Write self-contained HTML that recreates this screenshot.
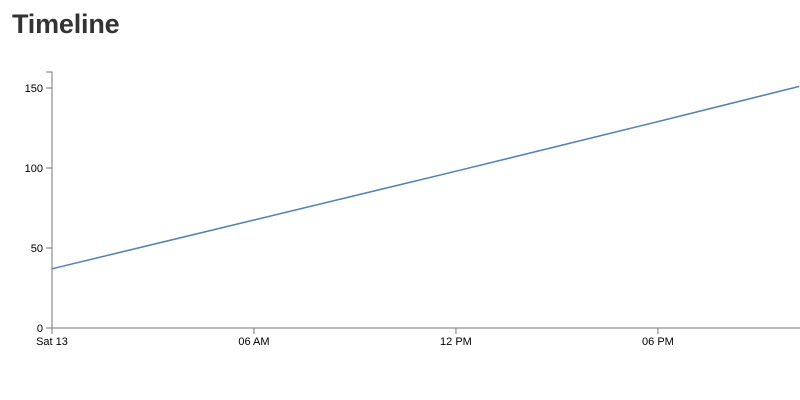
<!DOCTYPE html>
<html><head><meta charset="utf-8"><style>
html,body{margin:0;padding:0;background:#fff;width:800px;height:400px;overflow:hidden;font-family:"Liberation Sans",sans-serif}
h1{position:absolute;left:12px;top:9px;margin:0;font-size:27px;font-weight:bold;color:#333;letter-spacing:-0.2px}
svg{position:absolute;left:0;top:0}
text{font-family:"Liberation Sans",sans-serif;font-size:11px;fill:#000}
</style></head><body>
<h1>Timeline</h1>
<svg id="chart" width="800" height="400"></svg>
<script>
const hours = [0, 6, 12, 18, 22.2];
const values = [37, 67.5, 98, 129, 151];
const yTicks = [0, 50, 100, 150];
const xTicks = [0, 6, 12, 18];
const xTickLabels = ["Sat 13", "06 AM", "12 PM", "06 PM"];

const svg = document.getElementById('chart');
const NS = 'http://www.w3.org/2000/svg';
const x0 = 52, x1 = 800, y0 = 328, y1 = 72;
const xMax = 22.22, yMax = 160;
const X = h => x0 + (h / xMax) * (x1 - x0);
const Y = v => y0 - (v / yMax) * (y0 - y1);
function mk(tag, attrs, parent) {
  const e = document.createElementNS(NS, tag);
  for (const k in attrs) e.setAttribute(k, attrs[k]);
  (parent || svg).appendChild(e);
  return e;
}
const yAxis = mk('g', {});


mk('path', {d: `M${x0-6},${y1}H${x0}V${y0}H${x0-6}`, fill: 'none', stroke: '#777', 'stroke-width': 1}, yAxis);
yTicks.forEach(v => {
  const g = mk('g', {}, yAxis);
  
  
  mk('line', {x1: x0-6, x2: x0, y1: Y(v), y2: Y(v), stroke: '#777'}, g);
  const t = mk('text', {x: x0-9, y: Y(v)+4, 'text-anchor': 'end'}, g);
  t.textContent = v;
});
const xAxis = mk('g', {});


mk('path', {d: `M${x0},${y0+6}V${y0}H${x1}`, fill: 'none', stroke: '#777', 'stroke-width': 1}, xAxis);
xTicks.forEach((h, i) => {
  const g = mk('g', {}, xAxis);
  
  
  mk('line', {x1: X(h), x2: X(h), y1: y0, y2: y0+6, stroke: '#777'}, g);
  const t = mk('text', {x: X(h), y: y0+17, 'text-anchor': 'middle'}, g);
  t.textContent = xTickLabels[i];
});
const d = hours.map((h, i) => (i ? 'L' : 'M') + X(h).toFixed(1) + ',' + Y(values[i]).toFixed(1)).join('');
const line = mk('path', {d: d, fill: 'none', stroke: '#4f81bd', 'stroke-width': 1.5});


</script>
</body></html>
